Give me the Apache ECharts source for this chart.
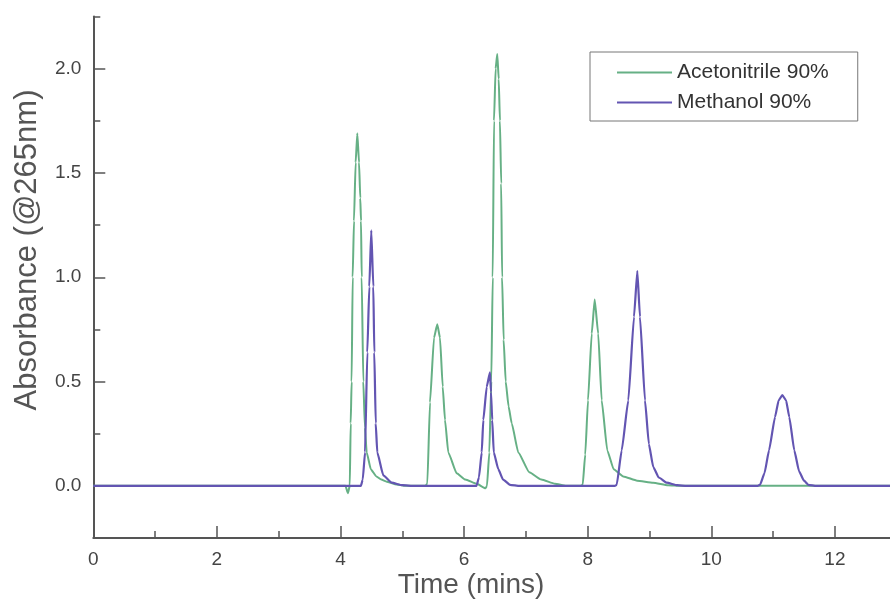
<!DOCTYPE html>
<html>
<head>
<meta charset="utf-8">
<title>HPLC chromatograms</title>
<script src="https://cdn.jsdelivr.net/npm/echarts@6/dist/echarts.min.js"></script>
<style>
  html, body { margin: 0; padding: 0; background: #ffffff; }
  #chart { width: 890px; height: 601px; }
</style>
</head>
<body>
<div id="chart"></div>
<script>
// Retention time (min) and absorbance at 265 nm, mobile phase: acetonitrile 90%
const acnTime = [
  0, 4.08, 4.12, 4.15, 4.165, 4.18, 4.197, 4.218, 4.245, 4.272, 4.30, 4.32, 4.332, 4.343, 4.369, 4.395, 4.424, 4.49, 4.58, 4.66, 4.748, 4.88, 5.05,
  5.37, 5.405, 5.448, 5.513, 5.566, 5.61, 5.654, 5.691, 5.744, 5.88, 6.02, 6.204, 6.346,
  6.37, 6.408, 6.44, 6.463, 6.484, 6.51, 6.537, 6.56, 6.58, 6.60, 6.615, 6.64, 6.673, 6.72, 6.77, 6.877, 7.055, 7.25, 7.47, 7.65,
  7.88, 7.919, 7.96, 8.005, 8.065, 8.113, 8.17, 8.226, 8.317, 8.42, 8.576, 8.80, 9.057, 9.30, 9.50, 13.0
];
const acnAbs = [
  0, 0, -0.035, 0.0, 0.3, 0.5, 1.0, 1.27, 1.55, 1.69, 1.55, 1.38, 1.27, 1.0, 0.5, 0.28, 0.16, 0.08, 0.045, 0.03, 0.02, 0.008, 0,
  0, 0.01, 0.4, 0.71, 0.775, 0.71, 0.475, 0.316, 0.16, 0.06, 0.03, 0.01, -0.012,
  0.0, 0.16, 0.5, 1.0, 1.75, 2.0, 2.07, 1.95, 1.75, 1.45, 1.0, 0.7, 0.5, 0.38, 0.3, 0.16, 0.065, 0.03, 0.01, 0,
  0, 0.005, 0.15, 0.41, 0.73, 0.893, 0.73, 0.41, 0.17, 0.08, 0.045, 0.025, 0.015, 0.003, 0, 0
];

// Retention time (min) and absorbance at 265 nm, mobile phase: methanol 90%
const meohTime = [
  0, 4.33, 4.36, 4.397, 4.434, 4.466, 4.498, 4.531, 4.547, 4.57, 4.595, 4.693, 4.828, 5.00, 5.20,
  6.20, 6.24, 6.285, 6.311, 6.366, 6.419, 6.435, 6.455, 6.48, 6.553, 6.63, 6.743, 6.90,
  8.44, 8.469, 8.55, 8.657, 8.749, 8.803, 8.846, 8.927, 8.99, 9.061, 9.15, 9.278, 9.45, 9.60,
  10.75, 10.788, 10.86, 10.934, 11.031, 11.09, 11.149, 11.21, 11.262, 11.343, 11.42, 11.50, 11.57, 11.70, 13.0
];
const meohAbs = [
  0, 0, 0.03, 0.16, 0.64, 0.955, 1.225, 0.955, 0.64, 0.3, 0.16, 0.05, 0.015, 0.003, 0,
  0, 0.04, 0.16, 0.316, 0.475, 0.544, 0.45, 0.316, 0.16, 0.08, 0.03, 0.005, 0,
  0, 0.005, 0.17, 0.41, 0.81, 1.03, 0.81, 0.41, 0.2, 0.09, 0.04, 0.015, 0.003, 0,
  0, 0.005, 0.06, 0.17, 0.33, 0.41, 0.435, 0.41, 0.33, 0.17, 0.07, 0.025, 0.005, 0, 0
];

const seriesNames = ['Acetonitrile 90%', 'Methanol 90%'];
const xLabelTicks = [0, 2, 4, 6, 8, 10, 12];
const yLabelTicks = [0, 0.5, 1.0, 1.5, 2.0];
const xTitle = 'Time (mins)';
const yTitle = 'Absorbance (@265nm)';

const zip = (xs, ys) => xs.map((x, i) => [x, ys[i]]);

const axisColor = '#555555';
const labelColor = '#444444';
const fontFamily = '"Liberation Sans", Arial, sans-serif';

const chart = echarts.init(document.getElementById('chart'), null, { renderer: 'canvas' });

const xCommon = {
  type: 'value', min: 0, max: 13, interval: 1,
  position: 'bottom', splitLine: { show: false }
};
const yCommon = {
  type: 'value', min: -0.25, max: 2.25, interval: 0.25,
  position: 'left', splitLine: { show: false }
};

chart.setOption({
  backgroundColor: '#ffffff',
  animation: false,
  // the time axis runs on past the right edge of the canvas
  grid: { left: 93.3, top: 16.5, width: 803.4, height: 521.5, containLabel: false, outerBoundsMode: 'none' },
  xAxis: [
    Object.assign({}, xCommon, {
      axisLine: { show: true, onZero: false, lineStyle: { color: axisColor, width: 2 } },
      axisTick: { show: true, inside: true, length: 7, lineStyle: { color: axisColor, width: 1.5 } },
      axisLabel: {
        show: true, customValues: xLabelTicks, margin: 12,
        color: labelColor, fontSize: 19, fontFamily: fontFamily,
        formatter: v => String(v)
      }
    }),
    Object.assign({}, xCommon, {
      axisLine: { show: false, onZero: false },
      axisTick: { show: true, inside: true, length: 12, customValues: xLabelTicks, lineStyle: { color: axisColor, width: 1.5 } },
      axisLabel: { show: false }
    })
  ],
  yAxis: [
    Object.assign({}, yCommon, {
      axisLine: { show: true, onZero: false, lineStyle: { color: axisColor, width: 2 } },
      axisTick: { show: true, inside: true, length: 7, lineStyle: { color: axisColor, width: 1.5 } },
      axisLabel: {
        show: true, customValues: yLabelTicks, margin: 12,
        color: labelColor, fontSize: 19, fontFamily: fontFamily,
        formatter: v => v.toFixed(1)
      }
    }),
    Object.assign({}, yCommon, {
      axisLine: { show: false, onZero: false },
      axisTick: { show: true, inside: true, length: 12, customValues: yLabelTicks, lineStyle: { color: axisColor, width: 1.5 } },
      axisLabel: { show: false }
    })
  ],
  legend: {
    data: seriesNames,
    orient: 'vertical',
    left: 590, top: 52,
    padding: [10, 29, 8, 27],
    itemGap: 9,
    itemWidth: 55, itemHeight: 2,
    icon: 'rect',
    borderColor: '#777777', borderWidth: 1, borderRadius: 0,
    textStyle: { color: '#333333', fontSize: 21, lineHeight: 20, fontFamily: fontFamily }
  },
  graphic: [
    {
      type: 'text', x: 471, y: 585,
      style: { text: xTitle, fill: axisColor, fontSize: 28, fontFamily: fontFamily, textAlign: 'center', textVerticalAlign: 'middle' }
    },
    {
      type: 'text', x: 27, y: 250, rotation: Math.PI / 2,
      style: { text: yTitle, fill: axisColor, fontSize: 31, fontFamily: fontFamily, textAlign: 'center', textVerticalAlign: 'middle' }
    }
  ],
  series: [
    {
      name: seriesNames[0], type: 'line', xAxisIndex: 0, yAxisIndex: 0,
      data: zip(acnTime, acnAbs),
      symbol: 'none', smooth: 0.15, smoothMonotone: 'x',
      color: '#66b085',
      lineStyle: { color: '#66b085', width: 2 },
      z: 2
    },
    {
      name: seriesNames[1], type: 'line', xAxisIndex: 0, yAxisIndex: 0,
      data: zip(meohTime, meohAbs),
      symbol: 'none', smooth: 0.15, smoothMonotone: 'x',
      color: '#6355b2',
      lineStyle: { color: '#6355b2', width: 2.2 },
      z: 3
    }
  ]
});
</script>
</body>
</html>
